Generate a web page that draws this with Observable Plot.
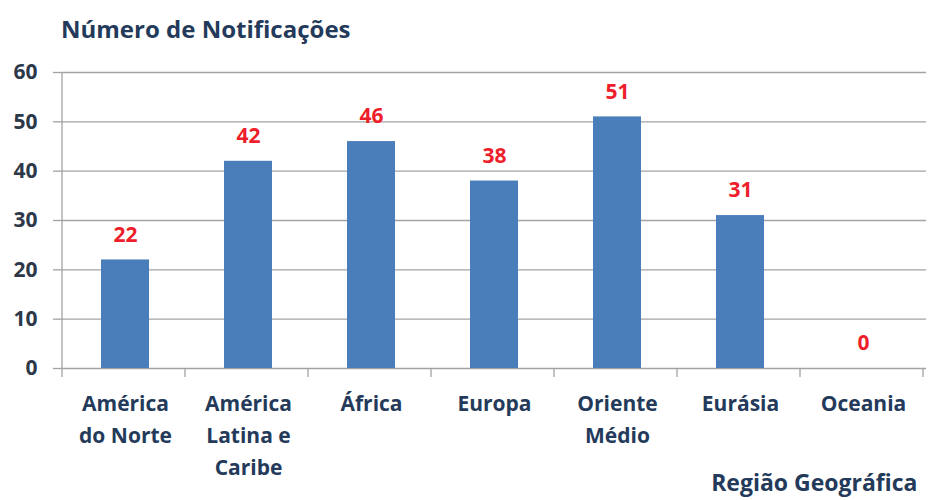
<!DOCTYPE html>
<html>
<head>
<meta charset="utf-8">
<script src="https://cdn.jsdelivr.net/npm/d3@7"></script>
<script src="https://cdn.jsdelivr.net/npm/@observablehq/plot@0.6"></script>
<style>
  body { margin: 0; background: #fff; width: 928px; }
  #title { height: 52px; box-sizing: border-box; padding: 17px 0 0 61px; font: bold 24px "Open Sans", sans-serif; line-height: 24px; color: #243a5a; }
</style>
</head>
<body>
<div id="title">Número de Notificações</div>
<div id="chart"></div>
<script>
const categories = ["América do Norte", "América Latina e Caribe", "África", "Europa", "Oriente Médio", "Eurásia", "Oceania"];
const tickLabels = ["América\ndo Norte", "América\nLatina e\nCaribe", "África", "Europa", "Oriente\nMédio", "Eurásia", "Oceania"];
const values = [22, 42, 46, 38, 51, 31, 0];
const yTicks = [0, 10, 20, 30, 40, 50, 60];
const xTitle = "Região Geográfica";

const data = categories.map((c, i) => ({region: c, value: values[i]}));

const navy = "#243a5a";
const gray = "#a3a3a3";

function boundaryTicks() {
  return Plot.ruleY([0], {
    render(index, scales, values, dims) {
      const {x, y} = scales;
      const g = d3.create("svg:g");
      const x0 = x(categories[0]);
      const step = x(categories[1]) - x(categories[0]);
      const off = x0 - dims.marginLeft;
      const y0 = y(0);
      for (let i = 0; i <= categories.length; i++) {
        const bx = (i < categories.length ? x(categories[i]) - off : x(categories[categories.length - 1]) - off + step);
        g.append("line")
          .attr("x1", bx).attr("x2", bx)
          .attr("y1", i === 0 ? y(60) : y0).attr("y2", y0 + 9)
          .attr("stroke", gray).attr("stroke-width", 1.3);
      }
      return g.node();
    }
  });
}

const chart = Plot.plot({
  width: 928,
  height: 448,
  marginTop: 20,
  marginBottom: 132,
  marginLeft: 62,
  marginRight: 2,
  style: {fontFamily: "'Open Sans', sans-serif", background: "white", overflow: "visible"},
  x: {domain: categories, paddingInner: 0.61, paddingOuter: 0.305},
  y: {domain: [0, 60]},
  marks: [
    Plot.gridY(yTicks, {stroke: gray, strokeOpacity: 1, strokeWidth: 1.3}),
    Plot.axisY({ticks: yTicks, tickSize: 9, tickPadding: 16, fontSize: 21, fontWeight: "bold", fill: "#2d3849", stroke: gray, strokeWidth: 1.3, label: null}),
    Plot.axisX({tickSize: 0, tickPadding: 20, tickFormat: d => tickLabels[categories.indexOf(d)], fontSize: 21, fontWeight: "bold", lineHeight: 1.52, fill: navy, label: null}),
    boundaryTicks(),
    Plot.barY(data, {x: "region", y: "value", fill: "#4a7ebb"}),
    Plot.text(data, {x: "region", y: "value", text: d => String(d.value), dy: -25, lineAnchor: "middle", fill: "#ee1f2b", fontSize: 21, fontWeight: "bold"}),
    Plot.text([xTitle], {frameAnchor: "bottom-right", dx: -9, dy: 115, lineAnchor: "middle", textAnchor: "end", fontSize: 23, fontWeight: "bold", fill: navy})
  ]
});
document.getElementById("chart").appendChild(chart);
</script>
</body>
</html>
